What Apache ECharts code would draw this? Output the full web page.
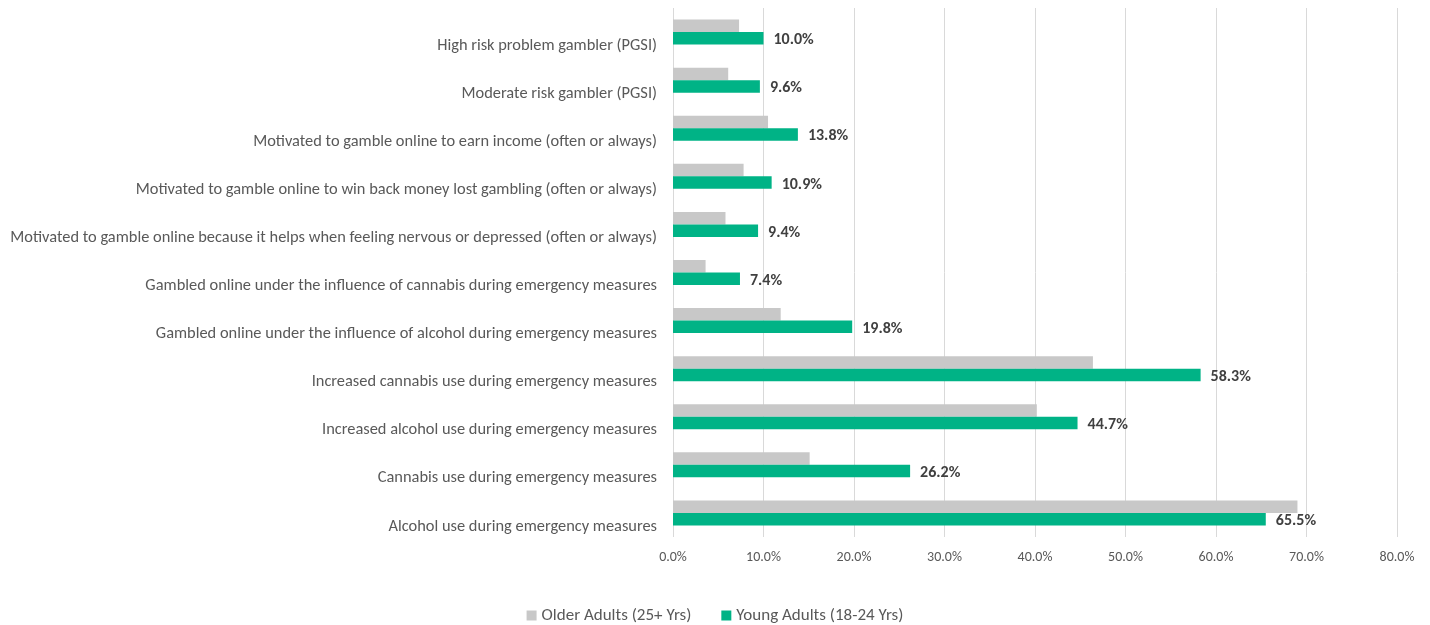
<!DOCTYPE html>
<html>
<head>
<meta charset="utf-8">
<script src="https://cdn.jsdelivr.net/npm/echarts@6/dist/echarts.min.js"></script>
<style>html,body{margin:0;padding:0;background:#fff}#c{width:1430px;height:625px}</style>
</head>
<body>
<div id="c"></div>
<script>
const categories = [
  "Alcohol use during emergency measures",
  "Cannabis use during emergency measures",
  "Increased alcohol use during emergency measures",
  "Increased cannabis use during emergency measures",
  "Gambled online under the influence of alcohol during emergency measures",
  "Gambled online under the influence of cannabis during emergency measures",
  "Motivated to gamble online because it helps when feeling nervous or depressed (often or always)",
  "Motivated to gamble online to win back money lost gambling (often or always)",
  "Motivated to gamble online to earn income (often or always)",
  "Moderate risk gambler (PGSI)",
  "High risk problem gambler (PGSI)"
];
const olderAdults = [69.0, 15.1, 40.2, 46.4, 11.9, 3.6, 5.8, 7.8, 10.5, 6.1, 7.3];
const youngAdults = [65.5, 26.2, 44.7, 58.3, 19.8, 7.4, 9.4, 10.9, 13.8, 9.6, 10.0];
const xTicks = [0, 10, 20, 30, 40, 50, 60, 70, 80];
const seriesNames = ["Older Adults (25+ Yrs)", "Young Adults (18-24 Yrs)"];

const chart = echarts.init(document.getElementById('c'), null, {renderer: 'canvas'});
const font = "Carlito, 'Open Sans', 'Liberation Sans', sans-serif";
chart.setOption({
  animation: false,
  textStyle: {fontFamily: font},
  grid: {left: 673, right: 33, top: 8, bottom: 88, containLabel: false},
  legend: {
    top: 602, left: 'center',
    itemWidth: 10, itemHeight: 10, itemGap: 30,
    icon: 'rect',
    textStyle: {color: '#595959', fontSize: 17, fontFamily: font},
    data: seriesNames
  },
  xAxis: {
    type: 'value', min: xTicks[0], max: xTicks[xTicks.length - 1], interval: 10,
    axisLine: {show: false}, axisTick: {show: false},
    splitLine: {show: true, lineStyle: {color: '#d9d9d9', width: 1}},
    axisLabel: {color: '#595959', fontSize: 14, margin: 13, formatter: v => v.toFixed(1) + '%'}
  },
  yAxis: {
    type: 'category', data: categories,
    axisLine: {show: false}, axisTick: {show: false},
    axisLabel: {color: '#595959', fontSize: 16.4, margin: 16, verticalAlign: 'top', lineHeight: 27}
  },
  series: [
    {
      name: seriesNames[0], type: 'bar', data: olderAdults,
      itemStyle: {color: '#c8c8c8'},
      barGap: '0%', barCategoryGap: '48%'
    },
    {
      name: seriesNames[1], type: 'bar', data: youngAdults,
      itemStyle: {color: '#00b386'},
      barGap: '0%', barCategoryGap: '48%',
      label: {show: true, position: 'right', distance: 10, offset: [0, 2], color: '#404040', fontWeight: 'bold', fontSize: 16,
        formatter: p => p.value.toFixed(1) + '%'}
    }
  ]
});
</script>
</body>
</html>
